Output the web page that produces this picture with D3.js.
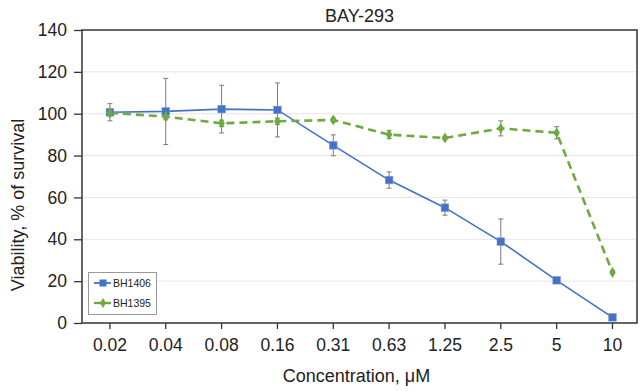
<!DOCTYPE html>
<html><head><meta charset="utf-8">
<script src="https://cdn.jsdelivr.net/npm/d3@7"></script>
<style>body{margin:0;background:#fff}svg{display:block;font-family:"Liberation Sans",Arial,sans-serif}</style>
</head><body><svg id="c" width="640" height="391"></svg>
<script>
const concentrations = ["0.02","0.04","0.08","0.16","0.31","0.63","1.25","2.5","5","10"];
const bh1406 = [100.7,101.1,102.2,101.8,84.9,68.3,55.1,38.9,20.4,2.7];
const bh1406Err = [4.1,15.8,11.4,12.9,5.0,3.9,3.6,10.8,0.8,0.5];
const bh1395 = [100.4,98.6,95.4,96.4,97.0,90.0,88.4,93.0,90.9,24.2];
const bh1395Err = [1.5,1.5,1.5,1.5,1.0,1.9,0.8,3.6,2.9,0.8];
const yTicks = [0,20,40,60,80,100,120,140];
const seriesNames = ["BH1406","BH1395"];

const svg = d3.select("#c");
const L=82, R=637, T=30, B=323;
const x = d3.scaleBand().domain(concentrations).range([L, 640.4]);
const xc = d => x(d) + x.bandwidth()/2;
const y = d3.scaleLinear().domain([0,140]).range([B, T]);
const blue = "#4472C4", green = "#6DAA3F", grey = "#7a7a7a";

// gridlines
svg.append("g").selectAll("line").data(yTicks.filter(v=>v>0 && v<140)).join("line")
  .attr("x1",L).attr("x2",R).attr("y1",d=>y(d)).attr("y2",d=>y(d))
  .attr("stroke","#e6e6e6").attr("stroke-width",1);

// axes
const yAxis = svg.append("g").attr("transform",`translate(${L},0)`)
  .call(d3.axisLeft(y).tickValues(yTicks).tickSize(8).tickPadding(7));
const xAxis = svg.append("g").attr("transform",`translate(0,${B})`)
  .call(d3.axisBottom(x).tickSize(6).tickPadding(10));
[yAxis,xAxis].forEach(a=>{
  a.select(".domain").remove();
  a.selectAll("line").attr("stroke","#333").attr("stroke-width",1.3);
  a.selectAll("text").attr("font-size",17.5).attr("fill","#222");
});
// frame
svg.append("rect").attr("x",L).attr("y",T).attr("width",R-L).attr("height",B-T)
  .attr("fill","none").attr("stroke","#333").attr("stroke-width",1.5);

// error bars
function errBars(vals, errs, cls){
  const g = svg.append("g").attr("class",cls);
  concentrations.forEach((c,i)=>{
    const cx = xc(c), y1 = y(vals[i]+errs[i]), y2 = y(vals[i]-errs[i]);
    g.append("line").attr("x1",cx).attr("x2",cx).attr("y1",y1).attr("y2",y2).attr("stroke",grey).attr("stroke-width",1);
    [y1,y2].forEach(yy=>g.append("line").attr("x1",cx-2.5).attr("x2",cx+2.5).attr("y1",yy).attr("y2",yy).attr("stroke",grey).attr("stroke-width",1));
  });
}
errBars(bh1406,bh1406Err,"e1");
errBars(bh1395,bh1395Err,"e2");

const line = d3.line().x((d,i)=>xc(concentrations[i])).y(d=>y(d));
svg.append("path").datum(bh1406).attr("d",line).attr("fill","none").attr("stroke",blue).attr("stroke-width",1.6);
svg.append("path").datum(bh1395).attr("d",line).attr("fill","none").attr("stroke",green).attr("stroke-width",2.6).attr("stroke-dasharray","8,5");

svg.append("g").selectAll("rect").data(bh1406).join("rect")
  .attr("x",(d,i)=>xc(concentrations[i])-3.8).attr("y",d=>y(d)-3.8).attr("width",7.6).attr("height",7.6)
  .attr("fill",blue).attr("stroke","#7a9ad8").attr("stroke-width",0.6);
const diamond = d3.symbol().type(d3.symbolDiamond).size(36);
svg.append("g").selectAll("path").data(bh1395).join("path")
  .attr("transform",(d,i)=>`translate(${xc(concentrations[i])},${y(d)})`)
  .attr("d",diamond).attr("fill",green);

// titles
svg.append("text").attr("x",(L+R)/2).attr("y",22).attr("text-anchor","middle").attr("font-size",18).attr("fill","#222").text("BAY-293");
svg.append("text").attr("x",(L+R)/2-3).attr("y",382).attr("text-anchor","middle").attr("font-size",18).attr("fill","#222").text("Concentration, μM");
svg.append("text").attr("transform","translate(24,205) rotate(-90)").attr("text-anchor","middle").attr("font-size",18).attr("fill","#222").text("Viability, % of survival");

// legend
const lg = svg.append("g");
lg.append("rect").attr("x",88.5).attr("y",272.5).attr("width",68).attr("height",42).attr("fill","#fff").attr("stroke","#999").attr("stroke-width",1);
const legColors = [blue, green];
seriesNames.forEach((n,i)=>{
  const yy = 283 + i*20;
  lg.append("line").attr("x1",94).attr("x2",111).attr("y1",yy).attr("y2",yy).attr("stroke",legColors[i]).attr("stroke-width",i?2.4:1.8);
  if(i===0) lg.append("rect").attr("x",99.5).attr("y",yy-3.5).attr("width",7).attr("height",7).attr("fill",blue);
  else lg.append("path").attr("transform",`translate(103,${yy})`).attr("d",d3.symbol().type(d3.symbolDiamond).size(30)).attr("fill",green);
  lg.append("text").attr("x",113).attr("y",yy+4).attr("font-size",10.5).attr("fill","#222").text(n);
});
</script></body></html>
